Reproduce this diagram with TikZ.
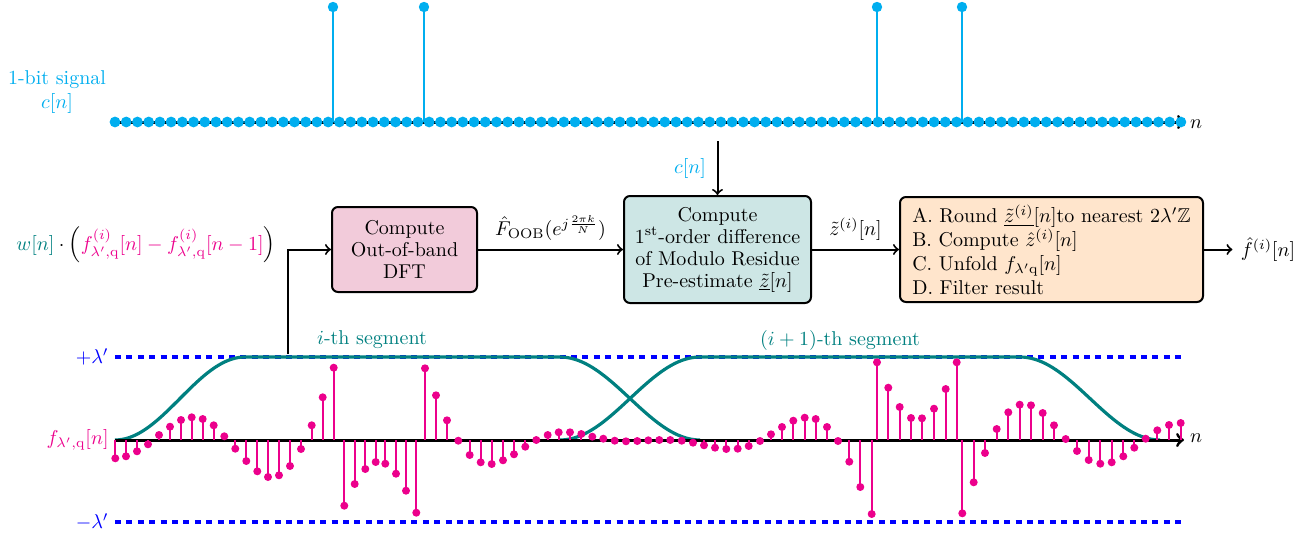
\documentclass[tikz,border=0pt]{standalone}
\usepackage{amsmath,amssymb}
\definecolor{cblue}{RGB}{0,174,239}
\definecolor{mpink}{RGB}{236,0,140}
\definecolor{wteal}{RGB}{0,128,128}
\definecolor{boxpink}{RGB}{242,203,218}
\definecolor{boxteal}{RGB}{205,230,229}
\definecolor{boxorange}{RGB}{255,229,204}
\begin{document}
\begin{tikzpicture}[x=0.5pt,y=-0.5pt,
  proc/.style={draw=black, line width=1pt, rounded corners=3pt, inner sep=2pt},
  flow/.style={->, line width=1pt},
  axisline/.style={line width=1.5pt, ->},
  stemp/.style={mpink, line width=0.9pt},
  stemb/.style={cblue, line width=0.8pt},
  lvl/.style={blue, line width=1.6pt, dash pattern=on 3pt off 2.7pt},
  win/.style={wteal, line width=1.6pt},
  lbl/.style={inner sep=1pt}]
\useasboundingbox (0,0) rectangle (1314,537);

% ---------- top 1-bit signal ----------
\draw[axisline] (115,122) -- (1185,122);
\node[lbl] (ntop) at (1196,124) {$n$};
\foreach \i in {0,...,95} \fill[cblue] ({115+\i*11.22},122) circle (2.7pt);
\foreach \x in {333,424,877,962} {
  \draw[stemb] (\x,122) -- (\x,7);
  \fill[cblue] (\x,7) circle (2.6pt);
}
\node[lbl, cblue, align=center] (clabel) at (57,92) {1-bit signal\\$c[n]$};

% ---------- blocks ----------
\node[proc, fill=boxpink, minimum width=72.5pt, minimum height=42.5pt, align=center]
  (b1) at (404.5,249.5) {Compute\\[-1pt]Out-of-band\\[-1pt]DFT};
\node[proc, fill=boxteal, minimum width=93.5pt, minimum height=53.5pt, align=center]
  (b2) at (717.5,249.5) {Compute\\[-1pt]1\textsuperscript{st}-order difference\\[-1pt]of Modulo Residue\\[-1pt]Pre-estimate $\underline{\tilde{z}}[n]$};
\node[proc, fill=boxorange, minimum width=151.5pt, minimum height=52.5pt, align=left]
  (b3) at (1051.5,249.5) {A. Round $\underline{\tilde{z}^{(i)}}[n]$to nearest $2\lambda'\mathbb{Z}$\\B. Compute $\hat{z}^{(i)}[n]$\\C. Unfold $f_{\lambda'\mathrm{q}}[n]$\\D. Filter result};

\node[lbl] (win0) at (146,245) {${\color{wteal}w[n]}\cdot\left({\color{mpink}f^{(i)}_{\lambda',\mathrm{q}}[n]-f^{(i)}_{\lambda',\mathrm{q}}[n-1]}\right)$};
\coordinate (inp) at (288,354);
\draw[flow] (inp) |- (b1.west);

\draw[flow] (b1.east) -- node[above=3pt, lbl] (foob) {$\hat{F}_{\mathrm{OOB}}(e^{j\frac{2\pi k}{N}})$} (b2.west);
\coordinate (ctop) at (717.5,141);
\draw[flow] (ctop) -- (b2.north);
\node[lbl, cblue] (cn) at (690,168) {$c[n]$};
\draw[flow] (b2.east) -- node[above=3pt, lbl] (zt) {$\tilde{z}^{(i)}[n]$} (b3.west);
\node[inner sep=4pt] (fout) at (1268,249.5) {$\hat{f}^{(i)}[n]$};
\draw[flow] (b3.east) -- (fout.west);

% ---------- bottom signal ----------
\draw[lvl] (115,357) -- (1183,357);
\draw[lvl] (115,522) -- (1183,522);
\node[lbl, blue, anchor=east] (plam) at (111,357) {$+\lambda'$};
\node[lbl, blue, anchor=east] (mlam) at (111,522) {$-\lambda'$};
\node[lbl, mpink, anchor=east] (flab) at (111,440) {$f_{\lambda',\mathrm{q}}[n]$};

\draw[win] plot[domain=115:245, samples=40] (\x,{440-41.5*(1-cos(((\x-115)/130)*180))})
  -- plot[domain=560:700, samples=40] (\x,{357+41.5*(1-cos(((\x-560)/140)*180))});
\draw[win] plot[domain=560:700, samples=40] (\x,{440-41.5*(1-cos(((\x-560)/140)*180))})
  -- plot[domain=1020:1160, samples=40] (\x,{357+41.5*(1-cos(((\x-1020)/140)*180))});
\node[lbl, wteal] (seg1) at (372,340) {$i$-th segment};
\node[lbl, wteal] (seg2) at (840,340) {$(i+1)$-th segment};

\draw[axisline] (115,440) -- (1184,440);
\node[lbl] (nbot) at (1196,438) {$n$};

\foreach \x/\y in {115.3/458.3, 126/456.3, 137/451.3, 148/444.3, 159/435, 170/426.7, 181/420, 191.7/417.3, 202.7/419, 213.7/425.3, 224.3/436.3, 235.3/448.7, 246.3/461, 257.3/471.3, 268/477, 279/475.3, 290/466, 301/449, 311.7/425.3, 322.7/397.3, 333.7/367.7, 344.3/505.7, 354.7/484, 365.3/469, 375.7/462, 385.3/463.7, 396/473.7, 406/490.7, 416.3/512.7, 425/368.3, 436/395.3, 447/420.3, 458.3/440.7, 469.7/455, 480.7/462.3, 491.7/464, 503/460.3, 514/454.3, 525.3/446.7, 536.3/440, 547.7/435, 558.7/432.3, 570/432.3, 581.3/434, 592.3/436.7, 603.3/438.7, 614.7/440.7, 626/441.3, 637.3/441, 648.3/440.3, 659.3/440, 670.3/440, 681.7/440.7, 693/442.7, 704/445.3, 715/447.7, 726.3/449, 737.7/448.7, 748.7/446, 760/441, 771/434.3, 782/427, 793.3/420.7, 804.7/417.7, 815.7/419, 827/427, 838/441, 849.3/461.7, 860.3/487, 871.7/514, 877/362.3, 888.3/387.7, 899.7/407, 911/418, 922/418.3, 934/408.7, 945.7/389, 956.7/362.3, 962.3/513.3, 973.7/482.3, 985/453, 996.7/429, 1008.3/412.3, 1019.7/404.7, 1031/405.3, 1042.7/413, 1054/425.3, 1065.7/439, 1077/451, 1088.7/460, 1100.3/463.7, 1111.7/462.3, 1123.3/456.3, 1134.3/447.7, 1145.7/438.7, 1157.3/430.3, 1169/425, 1180.7/423} {
  \draw[stemp] (\x,440) -- (\x,\y);
  \fill[mpink] (\x,\y) circle (2pt);
}
\end{tikzpicture}
\end{document}
